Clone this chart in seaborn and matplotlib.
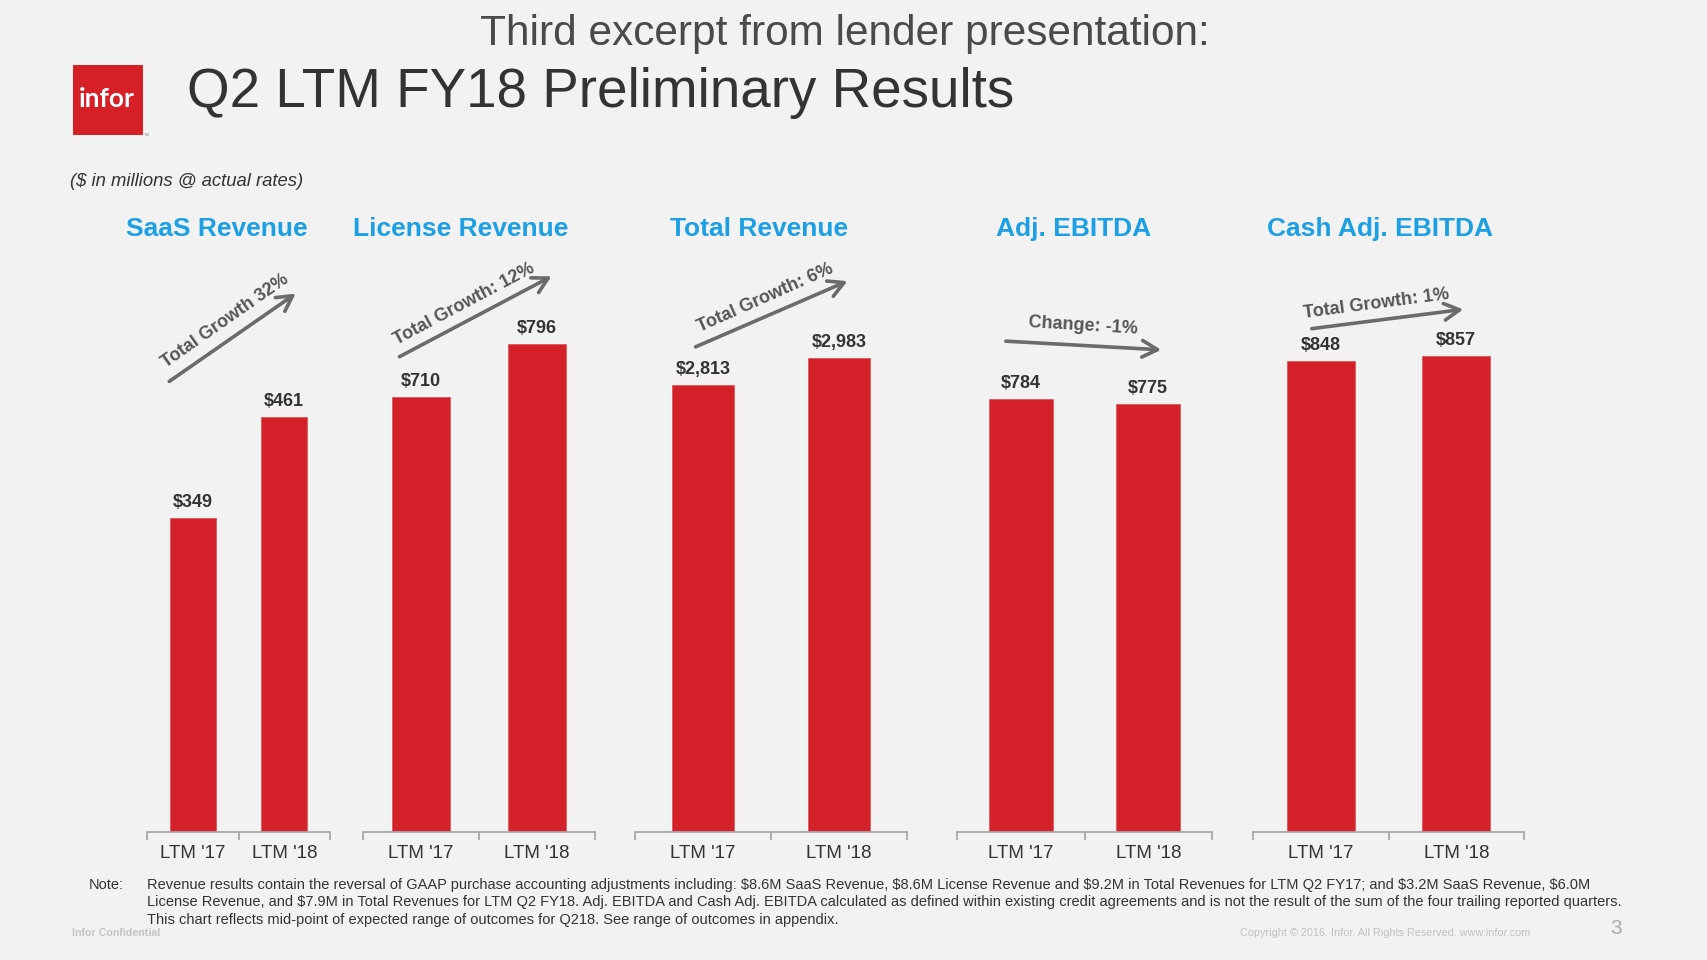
import matplotlib
matplotlib.use("Agg")
import matplotlib.pyplot as plt
import seaborn as sns
from matplotlib.patches import Rectangle, FancyArrowPatch

# ---------------- data ----------------
panel_titles = ["SaaS Revenue", "License Revenue", "Total Revenue", "Adj. EBITDA", "Cash Adj. EBITDA"]
periods = ["LTM '17", "LTM '18"]
saas_revenue = [349, 461]
license_revenue = [710, 796]
total_revenue = [2813, 2983]
adj_ebitda = [784, 775]
cash_adj_ebitda = [848, 857]
growth_labels = ["Total Growth 32%", "Total Growth: 12%", "Total Growth: 6%", "Change: -1%", "Total Growth: 1%"]

note_lines = [
    "Revenue results contain the reversal of GAAP purchase accounting adjustments including: $8.6M SaaS Revenue, $8.6M License Revenue and $9.2M in Total Revenues for LTM Q2 FY17; and $3.2M SaaS Revenue, $6.0M",
    "License Revenue, and $7.9M in Total Revenues for LTM Q2 FY18. Adj. EBITDA and Cash Adj. EBITDA calculated as defined within existing credit agreements and is not the result of the sum of the four trailing reported quarters.",
    "This chart reflects mid-point of expected range of outcomes for Q218. See range of outcomes in appendix.",
]

series = [saas_revenue, license_revenue, total_revenue, adj_ebitda, cash_adj_ebitda]

# ---------------- style / layout ----------------
W, H, DPI = 1707, 960, 100
BG = "#F2F2F2"
RED = "#D42028"
BLUE = "#1C9FE4"
DARK = "#333333"
GREY = "#6B6B6B"
AXC = "#A8A8A8"

sns.set_theme(style="white")
plt.rcParams['font.family'] = ['Liberation Sans', 'DejaVu Sans']

fig = plt.figure(figsize=(W / DPI, H / DPI), dpi=DPI, facecolor=BG)


def px(x, y):
    return (x / W, 1 - y / H)


BASE_Y = 832
AX_H = 600
axis_spans = [(147, 330), (363, 595), (635, 907), (957, 1212), (1253, 1524)]
y_tops = [667, 979, 3778, 1087, 1081]
bar_widths = [0.5, 0.5, 0.46, 0.5, 0.5]
title_x = [217, 461, 759, 1074, 1380]
TITLE_Y = 229

for i, vals in enumerate(series):
    l, r = axis_spans[i]
    ax = fig.add_axes([l / W, 1 - BASE_Y / H, (r - l) / W, AX_H / H])
    ax.set_facecolor("none")
    sns.barplot(x=periods, y=vals, ax=ax, color=RED, width=bar_widths[i],
                saturation=1, edgecolor="#E0575D", linewidth=0.6)
    ax.set_xlim(-0.5, 1.5)
    ax.set_ylim(0, y_tops[i])
    for s in ["left", "top", "right"]:
        ax.spines[s].set_visible(False)
    ax.spines["bottom"].set_color(AXC)
    ax.spines["bottom"].set_linewidth(1.3)
    ax.set_yticks([])
    ax.set_xticks([-0.5, 0.5, 1.5], minor=True)
    ax.tick_params(axis="x", which="minor", length=6, width=1.3, color=AXC, direction="out", bottom=True)
    ax.tick_params(axis="x", which="major", length=0, labelsize=13.5, labelcolor=DARK, pad=9)
    ax.set_xlabel("")
    ax.set_ylabel("")
    ax.bar_label(ax.containers[0], labels=[f"${v:,}" for v in vals], padding=5,
                 fontsize=13, fontweight="bold", color=DARK)
    fig.text(*px(title_x[i], TITLE_Y), panel_titles[i], ha="center", va="center",
             fontsize=19, fontweight="bold", color=BLUE)

# growth arrows + rotated labels (pixel positions)
arrows = [((167, 383), (298, 292)), ((397, 358), (554, 275)), ((693, 348), (850, 280)),
          ((1003, 341), (1164, 350)), ((1309, 329), (1466, 309))]
label_pos = [(225, 321), (464, 304), (765, 298), (1083, 326), (1376, 304)]
label_rot = [35, 28, 24, -3.5, 7.5]
for i in range(5):
    a, b = arrows[i]
    fig.add_artist(FancyArrowPatch(px(*a), px(*b), transform=fig.transFigure,
                                   arrowstyle="->,head_length=0.55,head_width=0.3",
                                   mutation_scale=20, lw=2.6, color=GREY))
    fig.text(*px(*label_pos[i]), growth_labels[i], ha="center", va="center",
             rotation=label_rot[i], rotation_mode="anchor",
             fontsize=13, fontweight="bold", color="#555555")

# header
fig.text(*px(845, 34), "Third excerpt from lender presentation:", ha="center", va="center",
         fontsize=30.5, color="#4A4A4A")
fig.text(*px(187, 93), "Q2 LTM FY18 Preliminary Results", ha="left", va="center",
         fontsize=39.4, color="#333333")
fig.add_artist(Rectangle(px(73, 135), 70 / W, 70 / H, transform=fig.transFigure,
                         facecolor="#D71F26", edgecolor="none"))
fig.text(*px(107, 99), "infor", ha="center", va="center", fontsize=19,
         fontweight="bold", color="white", family=["Lato", "DejaVu Sans"])
fig.text(*px(144, 135), "TM", ha="left", va="center", fontsize=3, color="#999999")

fig.text(*px(70, 181), "($ in millions @ actual rates)", ha="left", va="center",
         fontsize=13.3, style="italic", color=DARK)

# note
fig.text(*px(89, 885), "Note:", ha="left", va="center", fontsize=10.5, color=DARK)
for j, line in enumerate(note_lines):
    fig.text(*px(147, 885 + j * 17.4), line, ha="left", va="center", fontsize=10.5, color=DARK)

# footer
fig.text(*px(72, 933), "Infor Confidential", ha="left", va="center", fontsize=7.7,
         fontweight="bold", color="#C4C4C4")
fig.text(*px(1240, 933), "Copyright \u00a9 2016. Infor. All Rights Reserved. www.infor.com",
         ha="left", va="center", fontsize=7.8, color="#C0C0C0")
fig.text(*px(1616, 929), "3", ha="center", va="center", fontsize=15, color="#AAAAAA")

fig.savefig("out.png", dpi=DPI, facecolor=BG)
